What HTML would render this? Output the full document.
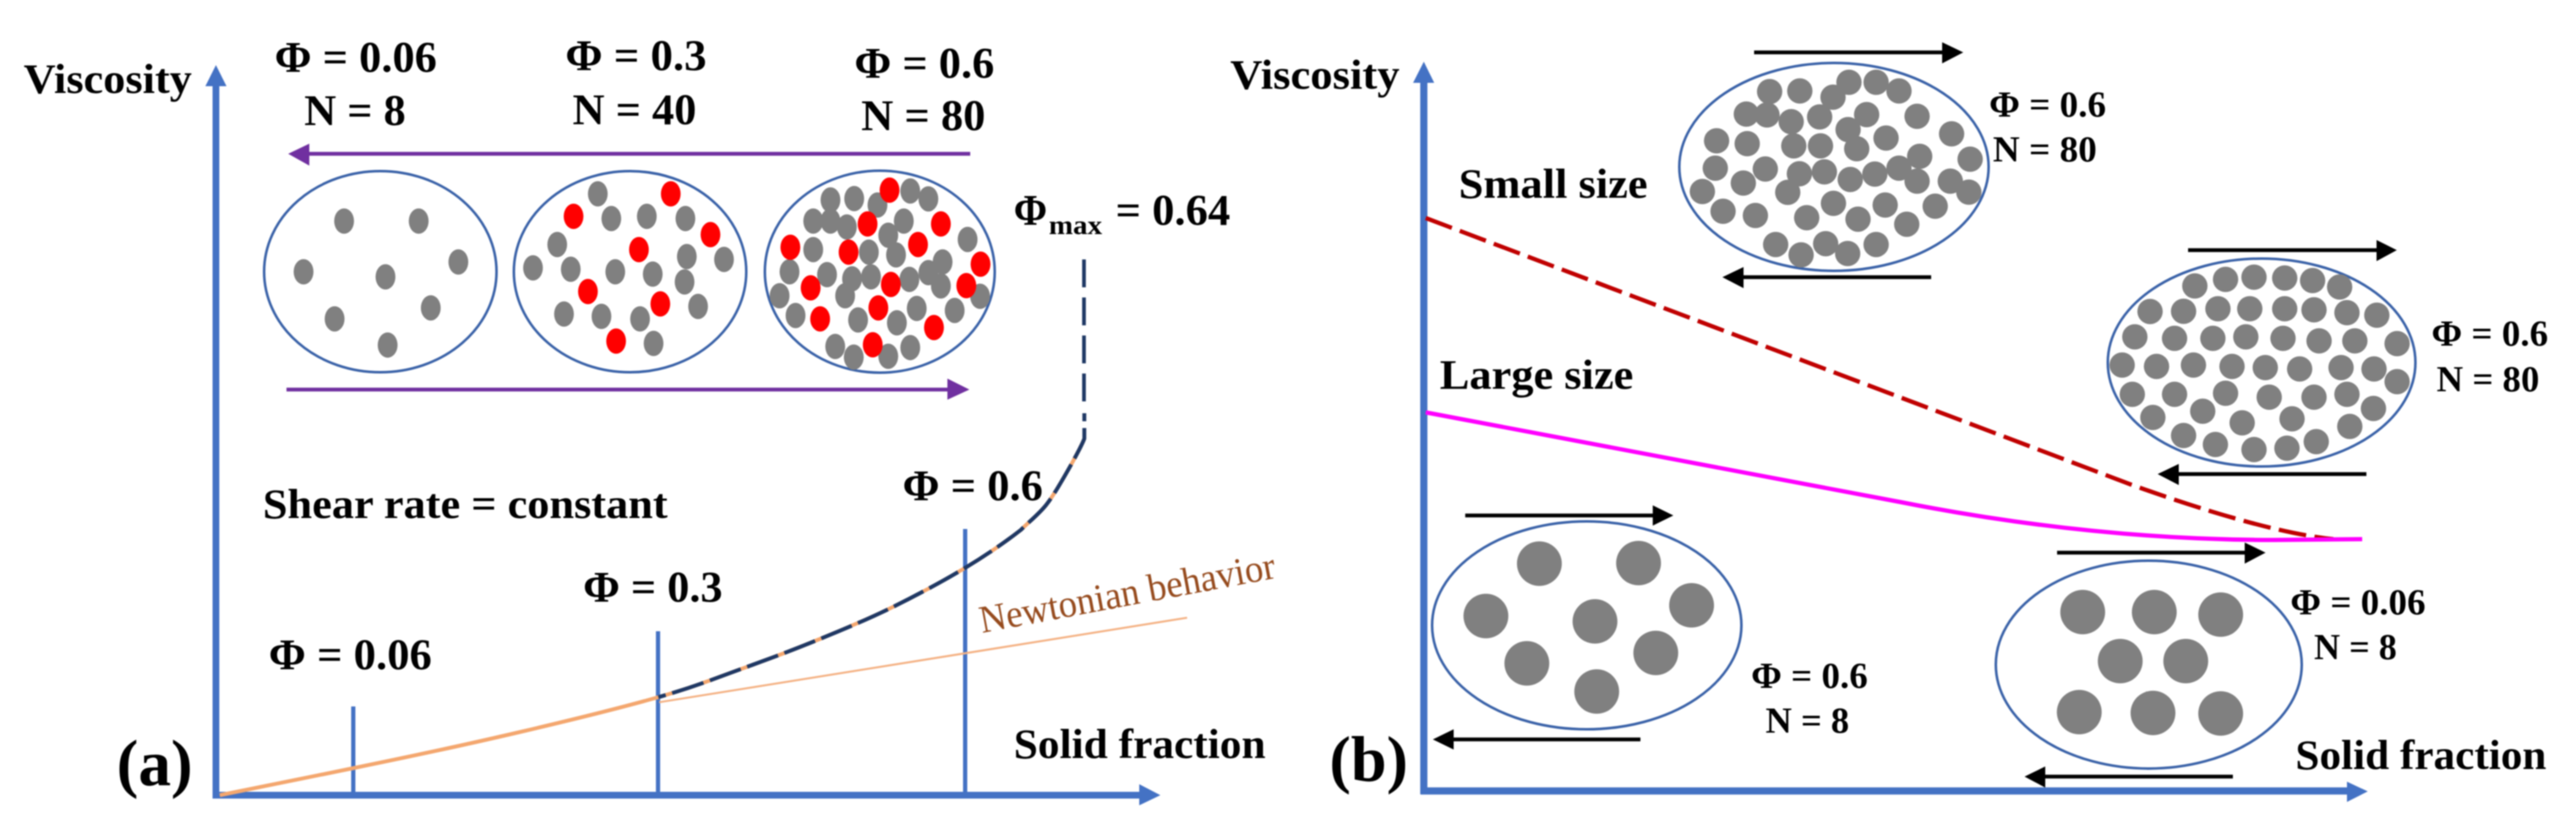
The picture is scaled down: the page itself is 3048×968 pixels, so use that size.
<!DOCTYPE html>
<html><head><meta charset="utf-8">
<style>
html,body{margin:0;padding:0;background:#fff;width:3048px;height:968px;overflow:hidden}
svg{display:block;filter:blur(0.9px)}
text{font-family:"Liberation Serif",serif;font-weight:bold;fill:#000}
.g ellipse{fill:#808080}
.r ellipse{fill:#ff0000}
.k1 ellipse{rx:23px;ry:45px}
.k2 ellipse{rx:35px;ry:45px}
.k3 ellipse{rx:29.4px;ry:45px}
.k4 ellipse{rx:45px;ry:45px}
.k5 ellipse{rx:52px;ry:79px}
.c{fill:none;stroke:#3a62a8;stroke-width:3}
</style></head>
<body>
<svg width="3048" height="968" viewBox="0 0 3048 968" xmlns="http://www.w3.org/2000/svg">
<rect width="3048" height="968" fill="#fff"/>

<!-- PANEL A -->
<path d="M255.5 100V945M252 941H1350" stroke="#4472c4" stroke-width="8" fill="none"/>
<polygon points="255.5,77 243,102 268,102" fill="#4472c4"/>
<polygon points="1373,941 1348,928 1348,953" fill="#4472c4"/>
<path d="M418 836V938M778.6 747V938M1142 626V938" stroke="#4472c4" stroke-width="5" fill="none"/>
<line x1="780" y1="831" x2="1404.6" y2="731" stroke="#f4b183" stroke-width="2.4"/>
<path d="M260 941C286 936 359 921 418 909C477 897 552 881 612 867C672 853 735 837.5 779 825C823 812.5 844.5 803.3 876 792C907.5 780.7 938.2 769.2 968 757C997.8 744.8 1026 733.2 1055 719C1084 704.8 1116.5 687.3 1142 672C1167.5 656.7 1191.8 639.7 1208 627C1218 617 1231 607 1239 596C1249 583 1261.7 559.8 1269 547C1276 534 1281 525 1283 519" fill="none" stroke="#f4a76f" stroke-width="4.5" stroke-linejoin="round"/>
<path d="M779 825C823 812.5 844.5 803.3 876 792C907.5 780.7 938.2 769.2 968 757C997.8 744.8 1026 733.2 1055 719C1084 704.8 1116.5 687.3 1142 672C1167.5 656.7 1191.8 639.7 1208 627C1218 617 1231 607 1239 596C1249 583 1261.7 559.8 1269 547C1276 534 1281 525 1283 519V489" fill="none" stroke="#1f3864" stroke-width="4.6" stroke-linejoin="round" stroke-dasharray="39 8" stroke-dashoffset="-17"/>
<line x1="1282.6" y1="307" x2="1282.6" y2="477" stroke="#1f3864" stroke-width="4.4" stroke-dasharray="33 12"/>

<line x1="366" y1="182" x2="1148" y2="182" stroke="#7030a0" stroke-width="4.5"/>
<polygon points="341,182 366,170 366,196" fill="#7030a0"/>
<line x1="339" y1="461" x2="1122" y2="461" stroke="#7030a0" stroke-width="4.5"/>
<polygon points="1147,461 1121,448 1121,473" fill="#7030a0"/>

<ellipse class="c" cx="450" cy="321.5" rx="137.5" ry="119"/>
<ellipse class="c" cx="745.5" cy="321.5" rx="137.5" ry="119"/>
<ellipse class="c" cx="1041" cy="321.5" rx="136" ry="119.5"/>

<g class="g k1" transform="scale(0.5102,0.33333)">
<ellipse cx="798" cy="785"/><ellipse cx="971" cy="785"/><ellipse cx="1063" cy="930"/><ellipse cx="704" cy="965"/><ellipse cx="894" cy="983"/><ellipse cx="999" cy="1093"/><ellipse cx="776" cy="1132"/><ellipse cx="899" cy="1225"/>
</g>
<g class="g k2" transform="translate(610,200) scale(0.33333)">
<ellipse cx="292" cy="88"/><ellipse cx="340" cy="176"/><ellipse cx="466" cy="168"/><ellipse cx="603" cy="176"/><ellipse cx="148" cy="268"/><ellipse cx="608" cy="311"/><ellipse cx="740" cy="321"/><ellipse cx="62" cy="351"/><ellipse cx="196" cy="356"/><ellipse cx="354" cy="365"/><ellipse cx="487" cy="373"/><ellipse cx="600" cy="401"/><ellipse cx="172" cy="515"/><ellipse cx="305" cy="523"/><ellipse cx="442" cy="532"/><ellipse cx="648" cy="488"/><ellipse cx="490" cy="619"/>
</g>
<g class="r k2" transform="translate(610,200) scale(0.33333)">
<ellipse cx="551" cy="88"/><ellipse cx="206" cy="168"/><ellipse cx="692" cy="233"/><ellipse cx="438" cy="286"/><ellipse cx="257" cy="435"/><ellipse cx="514" cy="479"/><ellipse cx="357" cy="611"/>
</g>
<g class="g k1" transform="translate(800,0) scale(0.5102,0.33333)">
<ellipse cx="358" cy="710"/><ellipse cx="413" cy="705"/><ellipse cx="467" cy="728"/><ellipse cx="543" cy="678"/><ellipse cx="585" cy="706"/><ellipse cx="318" cy="785"/><ellipse cx="358" cy="785"/><ellipse cx="396" cy="806"/><ellipse cx="528" cy="785"/><ellipse cx="492" cy="835"/><ellipse cx="676" cy="850"/><ellipse cx="318" cy="886"/><ellipse cx="447" cy="895"/><ellipse cx="510" cy="905"/><ellipse cx="618" cy="930"/><ellipse cx="263" cy="965"/><ellipse cx="350" cy="975"/><ellipse cx="408" cy="990"/><ellipse cx="452" cy="983"/><ellipse cx="541" cy="992"/><ellipse cx="585" cy="968"/><ellipse cx="614" cy="1015"/><ellipse cx="240" cy="1050"/><ellipse cx="392" cy="1050"/><ellipse cx="558" cy="1095"/><ellipse cx="646" cy="1102"/><ellipse cx="705" cy="1052"/><ellipse cx="277" cy="1120"/><ellipse cx="422" cy="1136"/><ellipse cx="512" cy="1146"/><ellipse cx="369" cy="1230"/><ellipse cx="412" cy="1268"/><ellipse cx="492" cy="1265"/><ellipse cx="543" cy="1234"/>
</g>
<g class="r k1" transform="translate(800,0) scale(0.5102,0.33333)">
<ellipse cx="495" cy="675"/><ellipse cx="444" cy="795"/><ellipse cx="614" cy="795"/><ellipse cx="265" cy="878"/><ellipse cx="400" cy="895"/><ellipse cx="561" cy="868"/><ellipse cx="706" cy="938"/><ellipse cx="312" cy="1022"/><ellipse cx="498" cy="1010"/><ellipse cx="673" cy="1014"/><ellipse cx="469" cy="1093"/><ellipse cx="334" cy="1132"/><ellipse cx="598" cy="1163"/><ellipse cx="456" cy="1224"/>
</g>

<text x="28" y="110" font-size="50" textLength="199" lengthAdjust="spacingAndGlyphs">Viscosity</text>
<text x="325" y="85" font-size="52" textLength="192" lengthAdjust="spacingAndGlyphs">Φ = 0.06</text>
<text x="360" y="148" font-size="52" textLength="120" lengthAdjust="spacingAndGlyphs">N = 8</text>
<text x="669" y="83" font-size="52" textLength="167" lengthAdjust="spacingAndGlyphs">Φ = 0.3</text>
<text x="677.5" y="147" font-size="52" textLength="146.5" lengthAdjust="spacingAndGlyphs">N = 40</text>
<text x="1011" y="92" font-size="52" textLength="165.5" lengthAdjust="spacingAndGlyphs">Φ = 0.6</text>
<text x="1019" y="154" font-size="52" textLength="147" lengthAdjust="spacingAndGlyphs">N = 80</text>
<text x="1199.5" y="266" font-size="52" textLength="39.5" lengthAdjust="spacingAndGlyphs">Φ</text>
<text x="1241" y="277" font-size="32" textLength="63" lengthAdjust="spacingAndGlyphs">max</text>
<text x="1320" y="266" font-size="52" textLength="135.6" lengthAdjust="spacingAndGlyphs">= 0.64</text>
<text x="311" y="613" font-size="50" textLength="479" lengthAdjust="spacingAndGlyphs">Shear rate = constant</text>
<text x="690" y="712" font-size="52" textLength="165" lengthAdjust="spacingAndGlyphs">Φ = 0.3</text>
<text x="318" y="792" font-size="52" textLength="193" lengthAdjust="spacingAndGlyphs">Φ = 0.06</text>
<text x="1068" y="592" font-size="52" textLength="166" lengthAdjust="spacingAndGlyphs">Φ = 0.6</text>
<text x="1199.5" y="897" font-size="50" textLength="298" lengthAdjust="spacingAndGlyphs">Solid fraction</text>
<text x="138" y="929" font-size="77" textLength="90" lengthAdjust="spacingAndGlyphs">(a)</text>
<text transform="translate(1162,749) rotate(-10.6)" font-size="46" textLength="355" lengthAdjust="spacingAndGlyphs" style="font-weight:normal;fill:#964b1e">Newtonian behavior</text>

<!-- PANEL B -->
<path d="M1684.7 95V940M1681 936H2780" stroke="#4472c4" stroke-width="8.5" fill="none"/>
<polygon points="1684.7,73 1672,98 1697,98" fill="#4472c4"/>
<polygon points="2801.6,936.5 2777,925 2777,949" fill="#4472c4"/>
<path d="M1687 258L2523 574Q2680 630 2761 638" fill="none" stroke="#c00000" stroke-width="5" stroke-dasharray="33 10"/>
<path d="M1687 488L2248 594C2400 624 2550 639 2690 639L2795 638" fill="none" stroke="#ff00ff" stroke-width="5"/>

<ellipse class="c" cx="2170" cy="197.5" rx="183" ry="123"/>
<ellipse class="c" cx="2676" cy="429" rx="182" ry="123"/>
<ellipse class="c" cx="1877.5" cy="740" rx="183" ry="123"/>
<ellipse class="c" cx="2542.5" cy="786.5" rx="181" ry="123"/>

<g class="g k3" transform="translate(1600,0) scale(0.5102,0.33333)">
<ellipse cx="968" cy="325"/><ellipse cx="1038" cy="323"/><ellipse cx="1115" cy="345"/><ellipse cx="1152" cy="292"/><ellipse cx="1215" cy="292"/><ellipse cx="1268" cy="323"/><ellipse cx="914" cy="405"/><ellipse cx="962" cy="408"/><ellipse cx="1018" cy="432"/><ellipse cx="1084" cy="415"/><ellipse cx="1193" cy="407"/><ellipse cx="1310" cy="413"/><ellipse cx="1150" cy="460"/><ellipse cx="1390" cy="475"/><ellipse cx="845" cy="500"/><ellipse cx="916" cy="510"/><ellipse cx="1024" cy="518"/><ellipse cx="1086" cy="518"/><ellipse cx="1170" cy="528"/><ellipse cx="1238" cy="490"/><ellipse cx="1316" cy="555"/><ellipse cx="1433" cy="565"/><ellipse cx="842" cy="597"/><ellipse cx="958" cy="600"/><ellipse cx="1037" cy="617"/><ellipse cx="1095" cy="610"/><ellipse cx="1155" cy="637"/><ellipse cx="1212" cy="618"/><ellipse cx="1268" cy="597"/><ellipse cx="1310" cy="643"/><ellipse cx="1387" cy="643"/><ellipse cx="1430" cy="682"/><ellipse cx="812" cy="680"/><ellipse cx="907" cy="650"/><ellipse cx="1010" cy="683"/><ellipse cx="1116" cy="722"/><ellipse cx="1236" cy="728"/><ellipse cx="1352" cy="732"/><ellipse cx="860" cy="750"/><ellipse cx="935" cy="765"/><ellipse cx="1054" cy="773"/><ellipse cx="1173" cy="778"/><ellipse cx="1286" cy="796"/><ellipse cx="982" cy="868"/><ellipse cx="1041" cy="905"/><ellipse cx="1098" cy="865"/><ellipse cx="1149" cy="900"/><ellipse cx="1215" cy="868"/>
</g>
<g class="g k4" transform="translate(2490,300) scale(0.33333)">
<ellipse cx="321" cy="115"/><ellipse cx="430" cy="92"/><ellipse cx="531" cy="84"/><ellipse cx="640" cy="87"/><ellipse cx="739" cy="96"/><ellipse cx="835" cy="119"/>
<ellipse cx="162" cy="206"/><ellipse cx="281" cy="205"/><ellipse cx="403" cy="196"/><ellipse cx="516" cy="196"/><ellipse cx="640" cy="196"/><ellipse cx="744" cy="200"/><ellipse cx="861" cy="210"/><ellipse cx="967" cy="219"/>
<ellipse cx="108" cy="296"/><ellipse cx="249" cy="301"/><ellipse cx="385" cy="301"/><ellipse cx="502" cy="296"/><ellipse cx="634" cy="301"/><ellipse cx="762" cy="310"/><ellipse cx="889" cy="310"/><ellipse cx="1039" cy="320"/>
<ellipse cx="63" cy="396"/><ellipse cx="185" cy="401"/><ellipse cx="316" cy="396"/><ellipse cx="453" cy="401"/><ellipse cx="571" cy="405"/><ellipse cx="693" cy="410"/><ellipse cx="840" cy="405"/><ellipse cx="957" cy="410"/><ellipse cx="1039" cy="455"/>
<ellipse cx="99" cy="500"/><ellipse cx="249" cy="500"/><ellipse cx="430" cy="496"/><ellipse cx="585" cy="510"/><ellipse cx="744" cy="510"/><ellipse cx="861" cy="500"/><ellipse cx="955" cy="550"/>
<ellipse cx="172" cy="582"/><ellipse cx="349" cy="560"/><ellipse cx="489" cy="601"/><ellipse cx="666" cy="587"/><ellipse cx="871" cy="614"/>
<ellipse cx="281" cy="646"/><ellipse cx="394" cy="678"/><ellipse cx="531" cy="696"/><ellipse cx="648" cy="691"/><ellipse cx="752" cy="668"/>
</g>
<g class="g k5" transform="translate(1600,484) scale(0.5102,0.33333)">
<ellipse cx="434" cy="549"/><ellipse cx="664" cy="547"/><ellipse cx="310" cy="735"/><ellipse cx="563" cy="754"/><ellipse cx="787" cy="697"/><ellipse cx="405" cy="903"/><ellipse cx="704" cy="866"/><ellipse cx="567" cy="1003"/>
</g>
<g class="g k5" transform="translate(2248,484) scale(0.5102,0.33333)">
<ellipse cx="424" cy="721"/><ellipse cx="590" cy="721"/><ellipse cx="744" cy="730"/><ellipse cx="511" cy="895"/><ellipse cx="663" cy="895"/><ellipse cx="416" cy="1076"/><ellipse cx="587" cy="1079"/><ellipse cx="744" cy="1081"/>
</g>

<g stroke="#000" stroke-width="4.5">
<line x1="2075.5" y1="62" x2="2300" y2="62"/>
<line x1="2061" y1="328" x2="2285" y2="328"/>
<line x1="2589" y1="296" x2="2814" y2="296"/>
<line x1="2576" y1="561" x2="2800" y2="561"/>
<line x1="1733.7" y1="610" x2="1958" y2="610"/>
<line x1="1718" y1="875" x2="1941" y2="875"/>
<line x1="2434" y1="654" x2="2658" y2="654"/>
<line x1="2418" y1="919" x2="2642" y2="919"/>
</g>
<g fill="#000">
<polygon points="2323,62 2298,50 2298,75"/>
<polygon points="2038,328 2063,316 2063,341"/>
<polygon points="2836,296 2812,284 2812,309"/>
<polygon points="2553,561 2578,549 2578,574"/>
<polygon points="1980,610 1955.6,598 1955.6,622"/>
<polygon points="1695.4,875 1720,863 1720,887"/>
<polygon points="2680.7,654 2656,642 2656,667"/>
<polygon points="2395.5,919 2420,907 2420,932"/>
</g>

<text x="1455.6" y="105" font-size="50" textLength="200.4" lengthAdjust="spacingAndGlyphs">Viscosity</text>
<text x="1726" y="234" font-size="50" textLength="223.5" lengthAdjust="spacingAndGlyphs">Small size</text>
<text x="1703.6" y="460" font-size="50" textLength="229" lengthAdjust="spacingAndGlyphs">Large size</text>
<text x="2353.6" y="138" font-size="43" textLength="138.4" lengthAdjust="spacingAndGlyphs">Φ = 0.6</text>
<text x="2358" y="191" font-size="43" textLength="123" lengthAdjust="spacingAndGlyphs">N = 80</text>
<text x="2877" y="409" font-size="43" textLength="138" lengthAdjust="spacingAndGlyphs">Φ = 0.6</text>
<text x="2883" y="463" font-size="43" textLength="121.6" lengthAdjust="spacingAndGlyphs">N = 80</text>
<text x="2072" y="814" font-size="43" textLength="138" lengthAdjust="spacingAndGlyphs">Φ = 0.6</text>
<text x="2089" y="867" font-size="43" textLength="99" lengthAdjust="spacingAndGlyphs">N = 8</text>
<text x="2710" y="727" font-size="43" textLength="160" lengthAdjust="spacingAndGlyphs">Φ = 0.06</text>
<text x="2738" y="780" font-size="43" textLength="98" lengthAdjust="spacingAndGlyphs">N = 8</text>
<text x="2716" y="910" font-size="50" textLength="297" lengthAdjust="spacingAndGlyphs">Solid fraction</text>
<text x="1573" y="924" font-size="76" textLength="93" lengthAdjust="spacingAndGlyphs">(b)</text>
</svg>
</body></html>
